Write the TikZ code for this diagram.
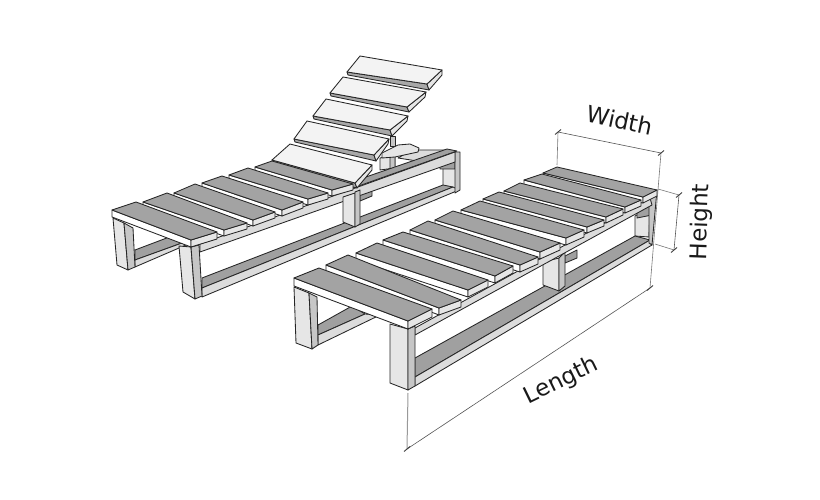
\documentclass[tikz,border=0pt]{standalone}
\usepackage{fontspec}
\setmainfont{DejaVu Sans}
\usetikzlibrary{calc}
\definecolor{topgrey}{HTML}{A3A3A3}
\definecolor{railgrey}{HTML}{A0A0A0}
\definecolor{lightface}{HTML}{E6E6E6}
\definecolor{railface}{HTML}{DCDCDC}
\definecolor{sideface}{HTML}{C6C6C6}
\definecolor{boardtop}{HTML}{F3F3F3}
\definecolor{boardside}{HTML}{A8A8A8}
\definecolor{dimgrey}{HTML}{555555}
\tikzset{
  outl/.style={draw=black!85,line width=0.85pt,line join=round},
  topface/.style={outl,fill=topgrey},
  frontface/.style={outl,fill=white},
  endface/.style={outl,fill=lightface},
  legface/.style={outl,fill=lightface},
  legside/.style={outl,fill=sideface},
  raildark/.style={outl,fill=railgrey},
  raillight/.style={outl,fill=railface},
  btop/.style={outl,fill=boardtop},
  bside/.style={outl,fill=boardside},
  bendface/.style={outl,fill=lightface},
  dimline/.style={draw=dimgrey,line width=0.6pt},
  extline/.style={draw=dimgrey!80,line width=0.6pt},
  softline/.style={draw=black!40,line width=1pt},
  tickmark/.style={draw=black!75,line width=0.9pt},
  dimlabel/.style={font=\fontsize{23}{25}\selectfont,text=black!90,inner sep=0pt}
}
% plank: left, top, right, front corner of upper face, thickness
\newcommand\plank[5]{%
  \coordinate (pL) at (#1);\coordinate (pT) at (#2);\coordinate (pR) at (#3);\coordinate (pF) at (#4);
  \draw[frontface] (pL)--(pF)--([shift={(0,#5)}]pF)--([shift={(0,#5)}]pL)--cycle;
  \draw[endface] (pF)--(pR)--([shift={(0,#5)}]pR)--([shift={(0,#5)}]pF)--cycle;
  \draw[topface] (pL)--(pT)--(pR)--(pF)--cycle;
}
% back-rest board: four upper corners, two lower corners of the thick side, end corner
\newcommand\board[7]{%
  \draw[bside] (#4)--(#3)--(#5)--(#6)--cycle;
  \draw[bendface] (#3)--(#2)--(#7)--(#5)--cycle;
  \draw[btop] (#1)--(#2)--(#3)--(#4)--cycle;
}
\newcommand\quadface[5]{\draw[#1] (#2)--(#3)--(#4)--(#5)--cycle;}
\begin{document}
\begin{tikzpicture}[x=1pt,y=-1pt]
\useasboundingbox (0,0) rectangle (820,500);
\fill[white] (0,0) rectangle (820,500);

%%%%%%%%%%%%%% LEFT LOUNGER
% far rail and mechanism
\draw[raillight] (398,158)--(412,150)--(446,150)--(430,163)--cycle;
\quadface{legface}{443,166}{443,186}{456,191}{456,162}
\quadface{raildark}{440,162}{455,160}{455,169}{440,169}
% far lower rail
\draw[raildark] (135,250)--(172,236)--(182,243)--(135,260)--cycle;
\draw[raillight] (135,260)--(182,243)--(186,245)--(135,267)--cycle;
\quadface{legface}{113,218}{117,265}{128,270}{124,223}
\quadface{legside}{124,223}{128,270}{135,267}{133,228}
% lower side rail
\draw[raildark] (202,278)--(443,185)--(453,187)--(202,288)--cycle;
\draw[raillight] (202,288)--(453,187)--(459,190)--(202,297)--cycle;
% support under the rest
\quadface{legface}{380,158}{380,170}{395,168}{395,155}
\quadface{legside}{390,156}{390,169}{395,168}{395,155}
\quadface{legside}{390,136}{390,146}{395,146}{395,136}
\draw[legface] (382,153)--(398,145)--(410,144)--(419,148)--(418,152)--(395,157)--(382,158)--cycle;
% post at the far end
\quadface{legside}{455,152}{455,193}{460,190}{460,152}
\quadface{raildark}{360,193}{372,188}{372,196}{360,201}
% upper rail
\draw[raildark] (363,178)--(447,149)--(457,151)--(353,188)--cycle;
\quadface{raillight}{200,244}{455,152}{455,162}{200,252}
% middle leg
\quadface{legface}{343,197}{343,222}{355,227}{355,193}
\quadface{legside}{355,192}{355,227}{360,224}{360,190}
% back rest
\board{360,56}{442,70}{427,84}{347,72}{429,90}{348,75}{442,75}
\board{343,77}{426,92}{407,107}{330,93}{409,112}{331,96}{425,97}
\board{326,99}{408,116}{390,130}{313,116}{392,136}{314,119}{407,121}
\board{307,121}{389,139}{374,155}{294,139}{376,161}{295,142}{388,144}
\board{290,144}{372,165}{355,183}{272,160}{357,188}{274,166}{372,170}
% planks
\plank{255,167}{272,161}{353,184}{332,190}{6}
\plank{229,175}{248,168}{328,193}{308,199}{6}
\plank{202,183}{222,176}{303,202}{282,210}{6}
\plank{174,193}{195,184}{275,212}{253,220}{6}
\plank{143,202}{167,193}{247,223}{224,230}{6}
% front legs
\quadface{legface}{179,246}{183,292}{195,299}{191,247}
\quadface{legside}{191,247}{195,299}{202,296}{199,245}
\plank{112,210}{136,202}{217,232}{191,240}{7}

%%%%%%%%%%%%%% RIGHT LOUNGER
% far end post
\quadface{legface}{635,216}{635,236}{649,237}{650,208}
\quadface{raildark}{637,208}{652,202}{652,215}{637,218}
% far lower rail
\draw[raildark] (318,325)--(352,306)--(365,314)--(318,335)--cycle;
\draw[raillight] (318,335)--(365,314)--(380,315)--(318,345)--cycle;
\quadface{legface}{294,287}{296,343}{312,349}{309,293}
\quadface{legside}{309,293}{312,349}{318,345}{317,297}
% lower side rail
\draw[raildark] (415,358)--(635,236)--(650,240)--(415,377)--cycle;
\draw[raillight] (415,377)--(650,240)--(652,245)--(415,386)--cycle;
% far post strip
\quadface{legside}{649,200}{649,243}{652,245}{657,190}
% small block, middle leg
\quadface{raildark}{565,256}{577,250}{577,258}{565,263}
\quadface{legface}{543,262}{543,285}{559,291}{559,258}
\quadface{legside}{559,258}{559,291}{565,286}{565,252}
% upper rail
\quadface{raillight}{415,328}{650,198}{652,205}{415,335}
% planks
\plank{543,173}{557,167}{657,190}{643,197}{6}
\plank{524,180}{542,174}{641,200}{625,207}{6}
\plank{504,191}{520,183}{623,209}{606,217}{6}
\plank{483,199}{499,192}{604,220}{587,227}{6}
\plank{461,210}{480,201}{584,230}{566,238}{7}
\plank{435,220}{453,211}{560,243}{540,252}{7}
\plank{410,230}{428,221}{538,257}{520,265}{7}
\plank{383,240}{403,232}{513,266}{495,276}{7}
\plank{356,253}{377,243}{488,280}{468,290}{7}
\plank{326,265}{348,255}{461,300}{439,308}{7}
% front leg
\quadface{legface}{390,324}{390,383}{408,390}{408,329}
\quadface{legside}{408,329}{408,390}{415,386}{415,326}
\plank{294,278}{319,268}{432,309}{408,321}{8}

%%%%%%%%%%%%%% DIMENSIONS
\coordinate (wa) at (558,132);
\coordinate (wb) at (661,153);
\coordinate (wc) at (557,165);
\coordinate (la) at (650,288);
\coordinate (lb) at (407,449);
\coordinate (lc) at (408,393);
\coordinate (ha) at (679,195);
\coordinate (hb) at (674,250);
\coordinate (hc) at (658,189);
\coordinate (hd) at (655,244);
\draw[extline] (wc)--(wa);
\draw[extline] (wb)--(la);
\draw[softline] (lc)--(lb);
\draw[extline] (hc)--(ha);
\draw[extline] (hd)--(hb);
\draw[dimline] (wa)--(wb);
\draw[dimline] (ha)--(hb);
\draw[dimline] (la)--(lb);
\foreach \p in {wa,wb,ha,hb,la,lb}
  \draw[tickmark] ([shift={(-3,2.5)}]\p)--([shift={(3,-2.5)}]\p);
\node[dimlabel,rotate=-12] (wlabel) at (620,120) {Width};
\node[dimlabel,rotate=88] (hlabel) at (701,222) {Height};
\node[dimlabel,rotate=26] (llabel) at (561,381) {Length};
\end{tikzpicture}
\end{document}
